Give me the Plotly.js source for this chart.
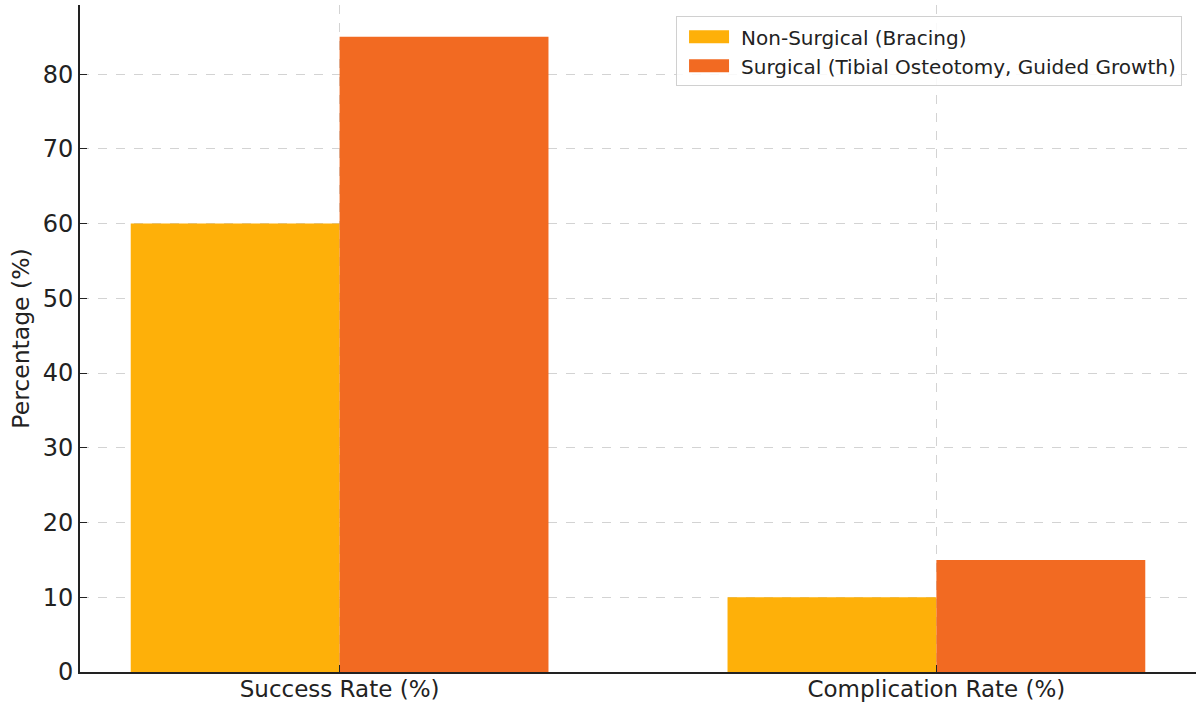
<!DOCTYPE html>
<html>
<head>
<meta charset="utf-8">
<script src="https://cdn.plot.ly/plotly-3.0.1.min.js"></script>
<style>html,body{margin:0;padding:0;background:#fff;}#chart{width:1196px;height:704px;}</style>
</head>
<body>
<div id="chart"></div>
<script>
const categories = ["Success Rate (%)", "Complication Rate (%)"];
const nonSurgical = [60, 10];
const surgical = [85, 15];
const seriesNames = ["Non-Surgical (Bracing)", "Surgical (Tibial Osteotomy, Guided Growth)"];
const yTicks = [0, 10, 20, 30, 40, 50, 60, 70, 80];

const font = "DejaVu Sans, sans-serif";
const traces = [
  {type: "bar", x: categories, y: nonSurgical, name: seriesNames[0], marker: {color: "#FEB009", line: {width: 0}}},
  {type: "bar", x: categories, y: surgical, name: seriesNames[1], marker: {color: "#F26A22", line: {width: 0}}}
];
const layout = {
  width: 1196, height: 704,
  margin: {l: 80, r: 0, t: 5, b: 32},
  paper_bgcolor: "#fff", plot_bgcolor: "#fff",
  barmode: "group", bargap: 0.3, bargroupgap: 0,
  font: {family: font, color: "#222", size: 24},
  xaxis: {
    type: "category", range: [-0.435, 1.435],
    showline: true, linecolor: "#222", linewidth: 2,
    ticks: "inside", ticklen: 7, tickcolor: "#222", tickwidth: 1,
    showgrid: true, gridcolor: "rgba(175,175,175,0.55)", griddash: "dash", gridwidth: 1,
    tickfont: {size: 23, family: font, color: "#222"},
    ticklabelstandoff: -5,
    layer: "above traces", zeroline: false
  },
  yaxis: {
    range: [0, 89.25], tickvals: yTicks,
    showline: true, linecolor: "#222", linewidth: 2,
    ticks: "inside", ticklen: 7, tickcolor: "#222", tickwidth: 1,
    showgrid: true, gridcolor: "rgba(175,175,175,0.55)", griddash: "dash", gridwidth: 1,
    tickfont: {size: 24, family: font, color: "#222"},
    title: {text: "Percentage (%)", font: {size: 23.5, family: font, color: "#222"}, standoff: 6},
    layer: "above traces", zeroline: false
  },
  legend: {
    x: 0.9875, y: 0.983, xanchor: "right", yanchor: "top",
    bgcolor: "rgba(255,255,255,0.85)", bordercolor: "#d0d0d0", borderwidth: 1,
    font: {size: 20, family: font, color: "#222"}, traceorder: "normal",
    itemwidth: 54
  },
  showlegend: true
};
Plotly.newPlot("chart", traces, layout, {displayModeBar: false, staticPlot: true}).then(function (gd) {
  gd.querySelectorAll(".legend .legendpoints path").forEach(function (p) {
    p.setAttribute("d", "M-20,6.5H20V-6.5H-20Z");
  });
});
</script>
</body>
</html>
